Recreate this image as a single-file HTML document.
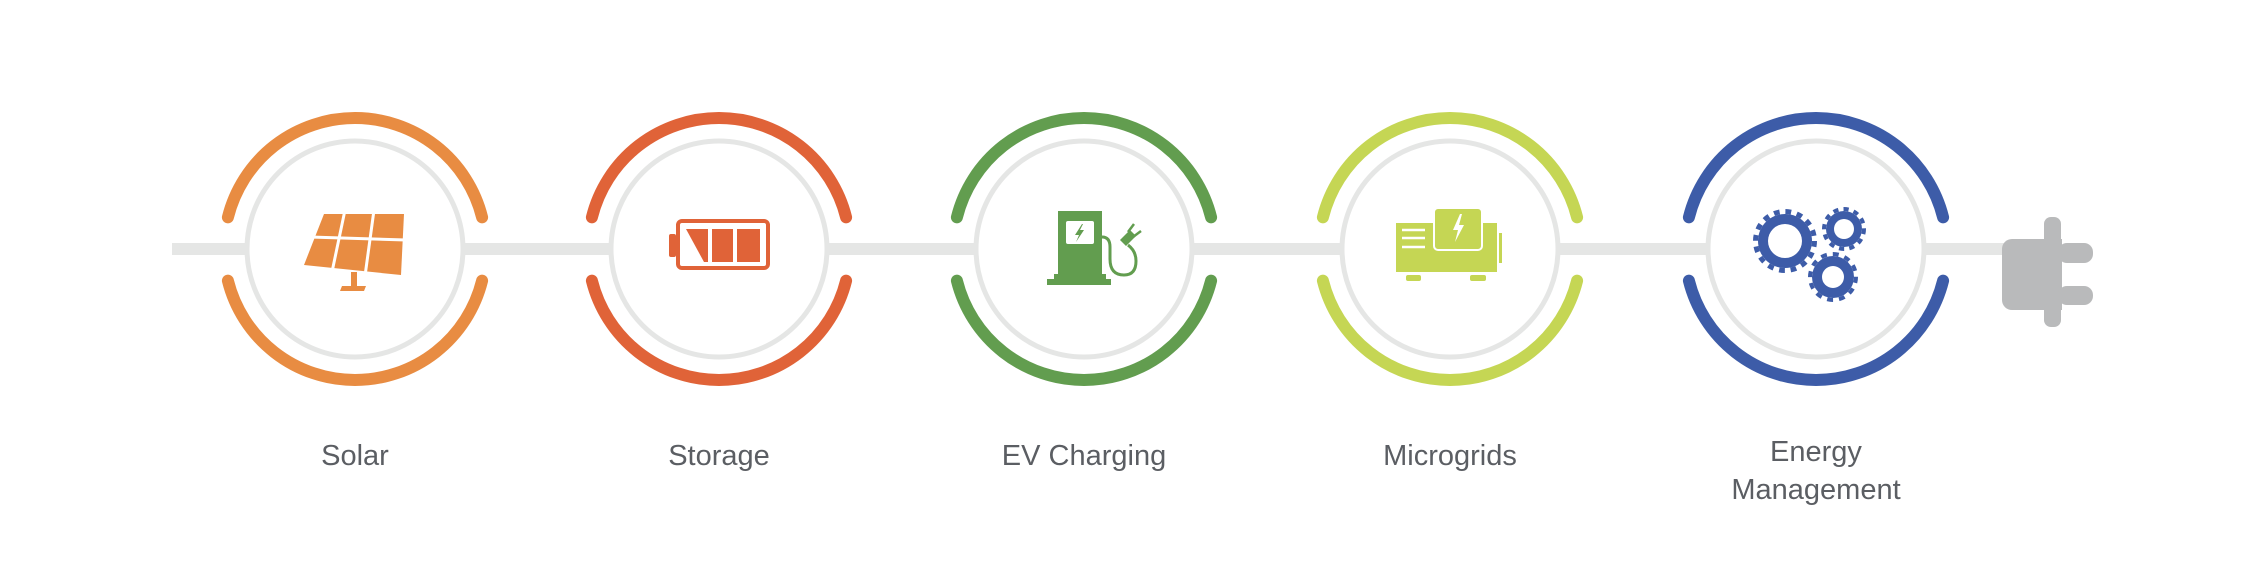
<!DOCTYPE html>
<html><head><meta charset="utf-8"><style>
html,body{margin:0;padding:0;background:#fff;}
svg{display:block}
text{font-family:"Liberation Sans",sans-serif;font-size:29px;fill:#5b5e63;text-anchor:middle}
</style></head><body>
<svg width="2262" height="582" viewBox="0 0 2262 582" xmlns="http://www.w3.org/2000/svg">
<rect x="172" y="243" width="1840" height="12" fill="#e5e6e5"/>
<g fill="#fff" stroke="#e5e6e5" stroke-width="5">
<circle cx="355" cy="249" r="108"/><circle cx="719" cy="249" r="108"/><circle cx="1084" cy="249" r="108"/><circle cx="1450" cy="249" r="108"/><circle cx="1816" cy="249" r="108"/>
</g>
<g fill="none" stroke-width="12" stroke-linecap="round">
<path stroke="#e88c42" d="M227.9,217.3 A131,131 0 0 1 482.1,217.3 M227.9,280.7 A131,131 0 0 0 482.1,280.7"/>
<path stroke="#e06338" d="M591.9,217.3 A131,131 0 0 1 846.1,217.3 M591.9,280.7 A131,131 0 0 0 846.1,280.7"/>
<path stroke="#629d4f" d="M956.9,217.3 A131,131 0 0 1 1211.1,217.3 M956.9,280.7 A131,131 0 0 0 1211.1,280.7"/>
<path stroke="#c5d654" d="M1322.9,217.3 A131,131 0 0 1 1577.1,217.3 M1322.9,280.7 A131,131 0 0 0 1577.1,280.7"/>
<path stroke="#3d5ca8" d="M1688.9,217.3 A131,131 0 0 1 1943.1,217.3 M1688.9,280.7 A131,131 0 0 0 1943.1,280.7"/>
</g>
<!-- solar -->
<g fill="#e88c42">
<polygon points="324,214 404,214 401,275 304,265"/>
<rect x="351" y="272" width="6" height="15"/>
<polygon points="342,286 366,286 364,291 340,291"/>
</g>
<g stroke="#fff" stroke-width="3">
<line x1="310" y1="237" x2="406" y2="240"/>
<line x1="345" y1="210" x2="332" y2="272"/>
<line x1="374" y1="210" x2="365" y2="276"/>
</g>
<!-- battery -->
<g fill="#e06338">
<rect x="678" y="221" width="90" height="47" rx="4" fill="none" stroke="#e06338" stroke-width="4"/>
<rect x="669" y="234" width="7" height="23" rx="2"/>
<polygon points="686,229 708,229 708,262 704,262"/>
<rect x="712" y="229" width="21" height="33"/>
<rect x="737" y="229" width="23" height="33"/>
</g>
<!-- ev -->
<g fill="#629d4f">
<rect x="1058" y="211" width="44" height="66"/>
<polygon points="1054,274 1106,274 1106,279 1111,279 1111,285 1047,285 1047,279 1054,279"/>
<path d="M1102,237 q8,0 8,10 v12 q0,16 14,16 q12,0 12,-14 q0,-10 -8,-16" fill="none" stroke="#629d4f" stroke-width="3"/>
<polygon points="1120,240 1130,230 1136,236 1126,246"/>
<line x1="1128" y1="232" x2="1134" y2="224" stroke="#629d4f" stroke-width="2.5"/>
<line x1="1133" y1="237" x2="1141" y2="231" stroke="#629d4f" stroke-width="2.5"/>
</g>
<rect x="1066" y="221" width="28" height="23" rx="2" fill="#fff"/>
<polygon points="1082,224 1075,235 1079,235 1076,242 1084,230 1080,230 1083,224" fill="#629d4f"/>
<!-- generator -->
<g fill="#c5d654">
<rect x="1396" y="223" width="101" height="49"/>
<rect x="1499" y="233" width="3" height="30"/>
<rect x="1406" y="275" width="15" height="6" rx="2"/>
<rect x="1470" y="275" width="16" height="6" rx="2"/>
<rect x="1434" y="208" width="48" height="42" rx="4" stroke="#fff" stroke-width="2"/>
</g>
<g stroke="#fff" stroke-width="2.5">
<line x1="1402" y1="230" x2="1425" y2="230"/><line x1="1402" y1="238" x2="1425" y2="238"/><line x1="1402" y1="247" x2="1425" y2="247"/>
</g>
<polygon points="1460,214 1453,230 1458,230 1455,242 1464,225 1459,225 1462,214" fill="#fff"/>
<!-- gears -->
<g fill="#3d5ca8">
<circle cx="1785" cy="241" r="27"/><circle cx="1785" cy="241" r="29.5" fill="none" stroke="#3d5ca8" stroke-width="5" stroke-dasharray="5.8 5.8"/>
<circle cx="1844" cy="229" r="18"/><circle cx="1844" cy="229" r="20" fill="none" stroke="#3d5ca8" stroke-width="4" stroke-dasharray="5.2 5.2"/>
<circle cx="1833" cy="277" r="21"/><circle cx="1833" cy="277" r="23" fill="none" stroke="#3d5ca8" stroke-width="4" stroke-dasharray="6 6"/>
</g>
<g fill="#fff"><circle cx="1785" cy="241" r="17"/><circle cx="1844" cy="229" r="10"/><circle cx="1833" cy="277" r="11"/></g>
<!-- plug -->
<g fill="#b9babb">
<path d="M2012,239 h50 v71 h-50 a10,10 0 0 1 -10,-10 v-51 a10,10 0 0 1 10,-10z"/>
<rect x="2044" y="217" width="17" height="110" rx="7"/>
<rect x="2058" y="243" width="35" height="20" rx="9"/>
<rect x="2058" y="286" width="35" height="19" rx="9"/>
</g>
<text x="355" y="465">Solar</text>
<text x="719" y="465">Storage</text>
<text x="1084" y="465">EV Charging</text>
<text x="1450" y="465">Microgrids</text>
<text x="1816" y="461">Energy</text>
<text x="1816" y="499">Management</text>
</svg>
</body></html>
